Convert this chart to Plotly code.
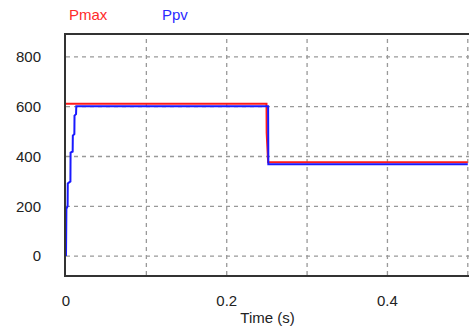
import plotly.graph_objects as go

# Data
t_pmax = [0.0, 0.2495, 0.2497, 0.2515, 0.5]
pmax = [612, 612, 495, 377, 377]

t_ppv = [0.0, 0.0003, 0.0005, 0.002, 0.0022, 0.0055, 0.0057, 0.0083, 0.0085,
         0.0104, 0.0106, 0.0125, 0.0128, 0.2515, 0.2518, 0.5]
ppv = [0, 90, 190, 200, 292, 300, 416, 420, 484, 490, 564, 570, 602, 602, 369, 369]

x_ticks = [0, 0.2, 0.4]
y_ticks = [0, 200, 400, 600, 800]

fig = go.Figure()
fig.add_trace(go.Scatter(x=t_pmax, y=pmax, mode="lines", name="Pmax",
                         line=dict(color="#ff1a1a", width=2)))
fig.add_trace(go.Scatter(x=t_ppv, y=ppv, mode="lines", name="Ppv",
                         line=dict(color="#1a1aff", width=2)))

FAM = "Liberation Sans, Arial, sans-serif"
font = dict(family=FAM, size=15, color="#222222")

fig.update_layout(
    width=469, height=329,
    margin=dict(l=66, r=0, t=35, b=54),
    paper_bgcolor="white", plot_bgcolor="white",
    showlegend=False,
    font=font,
    xaxis=dict(range=[0, 0.5015], tickvals=x_ticks, ticktext=["0", "0.2", "0.4"],
               showgrid=False, zeroline=False,
               showline=True, linecolor="#333333", linewidth=2, mirror=True,
               ticks="", ticklabelstandoff=11, tickfont=font,
               title=dict(text="Time (s)", standoff=4, font=font)),
    yaxis=dict(range=[-76, 888], tickvals=y_ticks,
               showgrid=False, zeroline=False,
               showline=True, linecolor="#333333", linewidth=2,
               ticks="", ticklabelstandoff=20, tickfont=font),
    annotations=[
        dict(text="Pmax", x=(88 - 66) / 403, y=(275 - 14) / 240, xref="paper", yref="paper",
             showarrow=False, xanchor="center", yanchor="middle",
             font=dict(family=FAM, size=15, color="#ff2a2a")),
        dict(text="Ppv", x=(175 - 66) / 403, y=(275 - 14) / 240, xref="paper", yref="paper",
             showarrow=False, xanchor="center", yanchor="middle",
             font=dict(family=FAM, size=15, color="#2a2aff")),
    ],
)

# dashed grid drawn at the tick positions
shapes = []
for gx in [0.1, 0.2, 0.3, 0.4, 0.5]:
    shapes.append(dict(type="line", xref="x", yref="paper", x0=gx, x1=gx, y0=0, y1=1,
                       line=dict(color="#999999", width=1.3, dash="4px,4px"), layer="below"))
for gy in y_ticks:
    shapes.append(dict(type="line", xref="paper", yref="y", x0=0, x1=1, y0=gy, y1=gy,
                       line=dict(color="#999999", width=1.3, dash="4px,4px"), layer="below"))
fig.update_layout(shapes=shapes)

fig.write_html("out.html")
